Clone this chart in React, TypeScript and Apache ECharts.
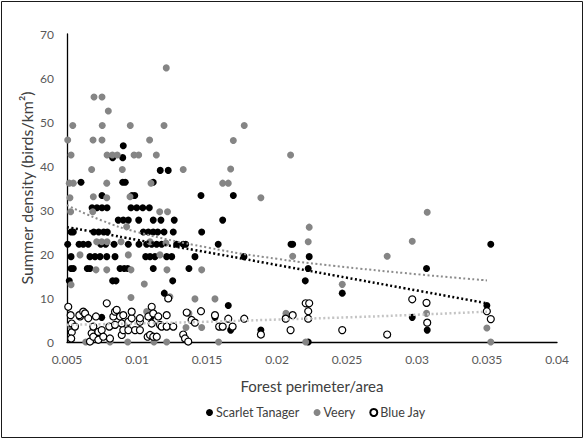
import React, { useEffect, useRef } from "react";
import * as echarts from "echarts";

const xTicks = [0.005, 0.01, 0.015, 0.02, 0.025, 0.03, 0.035, 0.04];
const yTicks = [0, 10, 20, 30, 40, 50, 60, 70];

const scarletTanager: [number, number][] = [
  [0.00902, 44.6], [0.00826, 41.9], [0.00898, 41.9], [0.01166, 39.0], [0.01223, 39.0],
  [0.006, 36.3], [0.00898, 36.3], [0.00916, 36.3], [0.01116, 36.3],
  [0.0075, 33.3], [0.00964, 33.3], [0.00984, 33.3], [0.01457, 33.3], [0.01688, 33.3],
  [0.00679, 30.5], [0.00714, 30.5], [0.0075, 30.5], [0.00786, 30.5], [0.00957, 30.5], [0.00998, 30.5], [0.01041, 30.5], [0.01088, 30.5],
  [0.00866, 27.7], [0.00902, 27.7], [0.00938, 27.7], [0.01012, 27.7], [0.01116, 27.7], [0.01171, 27.7], [0.01266, 27.7], [0.01612, 27.7],
  [0.00529, 25.0], [0.00545, 25.0], [0.00691, 25.0], [0.00726, 25.0], [0.00762, 25.0], [0.00788, 25.0], [0.01045, 25.0], [0.01081, 25.0],
  [0.01116, 25.0], [0.01148, 25.0], [0.01193, 25.0], [0.01259, 25.0], [0.01462, 25.0],
  [0.00505, 22.2], [0.00586, 22.2], [0.00616, 22.2], [0.00652, 22.2], [0.00741, 22.2], [0.00776, 22.2], [0.00836, 22.2], [0.00938, 22.2],
  [0.01014, 22.2], [0.01069, 22.2], [0.01105, 22.2], [0.0114, 22.2], [0.01176, 22.2], [0.01283, 22.2], [0.0133, 22.2], [0.01348, 22.2],
  [0.0158, 22.2], [0.021, 22.2], [0.02112, 22.2], [0.03527, 22.2],
  [0.00529, 19.4], [0.00664, 19.4], [0.007, 19.4], [0.00736, 19.4], [0.00784, 19.4], [0.00843, 19.4], [0.01062, 19.4], [0.01093, 19.4],
  [0.01128, 19.4], [0.01212, 19.4], [0.01248, 19.4], [0.01414, 19.4], [0.01764, 19.4], [0.0223, 19.4],
  [0.00529, 16.7], [0.00545, 16.7], [0.00645, 16.7], [0.00664, 16.7], [0.00879, 16.7], [0.00909, 16.7], [0.00934, 16.7], [0.01116, 16.7],
  [0.01371, 16.7], [0.02223, 16.7], [0.03068, 16.7],
  [0.00516, 13.9], [0.00826, 13.9], [0.0085, 13.9], [0.01255, 13.9], [0.02202, 13.9],
  [0.01195, 11.1], [0.02466, 11.1],
  [0.01652, 8.3], [0.03499, 8.3],
  [0.00748, 5.6], [0.011, 5.6], [0.01557, 5.6], [0.02062, 5.6], [0.02966, 5.6],
  [0.01669, 2.7], [0.01885, 2.7], [0.03073, 2.7],
  [0.02223, 0],
];

const veery: [number, number][] = [
  [0.01209, 62.3], [0.00693, 55.7], [0.0075, 55.7], [0.00795, 52.5],
  [0.00541, 49.2], [0.00752, 49.2], [0.00952, 49.2], [0.01193, 49.2], [0.01766, 49.2],
  [0.00505, 45.9], [0.00686, 45.9], [0.0075, 45.9], [0.0109, 45.9], [0.01688, 45.8],
  [0.00529, 42.5], [0.00786, 42.5], [0.00824, 42.5], [0.00859, 42.5], [0.00979, 42.5], [0.01012, 42.5], [0.01138, 42.5], [0.02097, 42.5],
  [0.00676, 39.2], [0.00895, 39.2], [0.0133, 39.2], [0.01669, 39.3],
  [0.00516, 36.1], [0.00545, 36.1], [0.00784, 36.1], [0.011, 36.1], [0.01612, 36.1], [0.01652, 36.1],
  [0.00521, 32.8], [0.00688, 33.0], [0.00784, 32.8], [0.0095, 33.0], [0.01885, 32.8],
  [0.00526, 29.6], [0.00684, 29.6], [0.01162, 29.6], [0.01218, 29.6], [0.03073, 29.5],
  [0.00926, 26.2], [0.0223, 26.1],
  [0.00712, 22.8], [0.00748, 22.8], [0.00786, 22.8], [0.00886, 22.8], [0.01093, 22.8], [0.01207, 22.5], [0.02223, 22.8], [0.02966, 22.9],
  [0.00593, 19.8], [0.00938, 19.8], [0.01164, 19.8], [0.02112, 19.5], [0.02787, 19.5],
  [0.00707, 16.4], [0.00784, 16.4], [0.00957, 16.4], [0.01214, 16.4], [0.01462, 16.4],
  [0.00529, 13.0], [0.01052, 13.2], [0.02466, 13.1],
  [0.00957, 10.1], [0.01235, 10.3], [0.01414, 9.8], [0.01557, 9.8],
  [0.006, 6.5], [0.01069, 6.9], [0.01371, 6.5], [0.02064, 6.5], [0.03068, 6.5],
  [0.00529, 3.5], [0.0135, 3.3], [0.01462, 3.3], [0.03499, 3.2],
  [0.00634, 0], [0.00807, 0], [0.00934, 0], [0.01121, 0], [0.01212, 0], [0.01583, 0], [0.02205, 0], [0.03527, 0],
];

const blueJay: [number, number][] = [
  [0.00509, 8.0], [0.00526, 6.1], [0.00534, 4.2], [0.00534, 2.2], [0.0053, 0.8], [0.00557, 3.5], [0.00593, 5.8], [0.00588, 6.1],
  [0.00616, 6.9], [0.00629, 6.5], [0.00652, 5.4], [0.00664, 0.1], [0.00676, 2.0], [0.00688, 3.5], [0.00688, 1.2], [0.00707, 5.8],
  [0.00724, 2.3], [0.00724, 0.5], [0.00748, 2.7], [0.00759, 1.2], [0.00784, 8.8], [0.00802, 3.5], [0.00807, 0.8], [0.00831, 5.8],
  [0.00843, 3.9], [0.00843, 6.9], [0.00855, 7.3], [0.00879, 5.8], [0.00891, 4.2], [0.00891, 1.6], [0.00902, 2.7], [0.00902, 6.1],
  [0.00938, 2.7], [0.00938, 4.6], [0.00962, 5.4], [0.00962, 6.9], [0.00986, 2.7], [0.01021, 2.7], [0.01021, 4.6], [0.01021, 5.4],
  [0.01076, 1.2], [0.01081, 5.8], [0.01105, 8.0], [0.01105, 4.2], [0.01093, 1.6], [0.01116, 1.2], [0.01116, 6.5], [0.01141, 1.2],
  [0.01152, 5.8], [0.01164, 3.9], [0.01176, 3.5], [0.01212, 6.1], [0.01212, 3.5], [0.01223, 9.9], [0.01259, 3.5],
  [0.0133, 1.7], [0.01343, 0.8], [0.01366, 0.1], [0.01355, 6.7], [0.0139, 5.0],
  [0.01457, 7.0], [0.01414, 4.4], [0.01557, 6.1], [0.01587, 3.5], [0.01612, 3.5], [0.01652, 5.3], [0.01683, 3.5], [0.01766, 5.3],
  [0.01885, 1.7], [0.02062, 5.3], [0.02112, 6.1], [0.02097, 2.7], [0.02205, 8.8], [0.0223, 8.8], [0.02223, 7.0], [0.02223, 5.3],
  [0.02466, 2.7], [0.02787, 1.7], [0.02966, 9.7], [0.03068, 8.9], [0.03073, 4.4], [0.03499, 7.0], [0.03527, 5.2],
];

const trendX = [0.005, 0.0075, 0.01, 0.015, 0.02, 0.025, 0.03, 0.035];
const scarletTrend = [26.1, 24.7, 23.2, 20.4, 17.5, 14.6, 11.7, 8.8];
const veeryTrend = [31.1, 27.6, 25.0, 21.5, 18.9, 17.0, 15.4, 14.0];
const blueJayTrend = [3.9, 4.05, 4.2, 4.6, 5.1, 5.6, 6.2, 6.9];

const FONT = "Lato";
const LABEL = "#595959";
const TITLE = "#404040";

export default function App() {
  const ref = useRef<HTMLDivElement>(null);
  useEffect(() => {
    if (!ref.current) return;
    const chart = echarts.init(ref.current, undefined, { renderer: "svg" });
    const pair = (ys: number[]) => trendX.map((x, i) => [x, ys[i]]);
    chart.setOption({
      animation: false,
      backgroundColor: "#fff",
      textStyle: { fontFamily: FONT },
      graphic: [
        {
          type: "rect",
          shape: { x: 1.5, y: 1.5, width: 581, height: 436 },
          style: { fill: "none", stroke: "#1a1a1a", lineWidth: 1 },
          silent: true,
        },
      ],
      grid: { left: 67, right: 28, top: 34, bottom: 98 },
      legend: {
        data: ["Scarlet Tanager", "Veery", "Blue Jay"],
        top: 401,
        left: 201,
        itemWidth: 7,
        itemHeight: 7,
        itemGap: 14,
        textStyle: { fontFamily: FONT, fontSize: 12.5, color: TITLE, padding: [0, 0, 0, -2] },
      },
      xAxis: {
        type: "value",
        min: xTicks[0],
        max: xTicks[xTicks.length - 1],
        interval: 0.005,
        name: "Forest perimeter/area",
        nameLocation: "middle",
        nameGap: 36,
        nameTextStyle: { fontFamily: FONT, fontSize: 15, color: TITLE },
        axisLine: { lineStyle: { color: "#000", width: 1.3 } },
        axisTick: { show: false },
        splitLine: { show: false },
        axisLabel: {
          fontFamily: FONT,
          fontSize: 12,
          color: LABEL,
          margin: 11,
          formatter: (v: number) => String(+v.toFixed(3)),
        },
      },
      yAxis: {
        type: "value",
        min: yTicks[0],
        max: yTicks[yTicks.length - 1],
        interval: 10,
        name: "Summer density (birds/km²)",
        nameLocation: "middle",
        nameGap: 33,
        nameMoveOverlap: false,
        nameTextStyle: { fontFamily: FONT, fontSize: 16, color: TITLE },
        axisLine: { show: true, lineStyle: { color: "#000", width: 1.3 } },
        axisTick: { show: false },
        splitLine: { show: false },
        axisLabel: { fontFamily: FONT, fontSize: 12, color: LABEL, margin: 13 },
      },
      series: [
        {
          name: "Scarlet Tanager",
          type: "scatter",
          symbol: "circle",
          symbolSize: 7,
          itemStyle: { color: "#000", opacity: 1 },
          data: scarletTanager,
        },
        {
          name: "Veery",
          type: "scatter",
          symbol: "circle",
          symbolSize: 7,
          itemStyle: { color: "#858585", opacity: 1 },
          data: veery,
        },
        {
          name: "Blue Jay",
          type: "scatter",
          symbol: "circle",
          symbolSize: 7,
          itemStyle: { color: "#fff", borderColor: "#000", borderWidth: 1.2, opacity: 1 },
          data: blueJay,
        },
        {
          name: "Scarlet trend",
          type: "line",
          smooth: true,
          showSymbol: false,
          lineStyle: { color: "#000", width: 2.5, type: [2, 2.5] },
          data: pair(scarletTrend),
          z: 5,
        },
        {
          name: "Veery trend",
          type: "line",
          smooth: true,
          showSymbol: false,
          lineStyle: { color: "#8c8c8c", width: 2, type: [2, 2.5] },
          data: pair(veeryTrend),
          z: 5,
        },
        {
          name: "Blue Jay trend",
          type: "line",
          smooth: true,
          showSymbol: false,
          lineStyle: { color: "#c4c4c4", width: 2.5, type: [2, 2.5] },
          data: pair(blueJayTrend),
          z: 5,
        },
      ],
    });
    return () => chart.dispose();
  }, []);
  return (
    <div
      ref={ref}
      style={{ position: "fixed", left: 0, top: 0, width: 585, height: 440 }}
    />
  );
}
